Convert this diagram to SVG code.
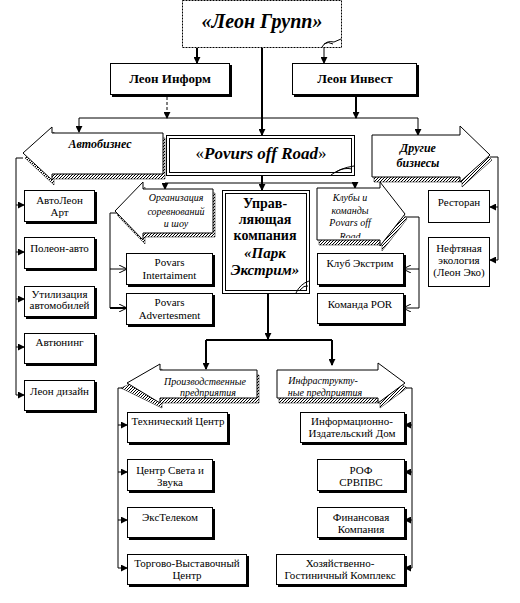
<svg xmlns="http://www.w3.org/2000/svg" width="520" height="603" viewBox="0 0 520 603">
<defs>
<pattern id="hatch" width="3" height="3" patternUnits="userSpaceOnUse">
<rect width="3" height="3" fill="#fff"/>
<path d="M0,0h1v1h-1z M2,1h1v1h-1z M1,2h1v1h-1z" fill="#000"/>
</pattern>
<marker id="ah" viewBox="0 0 8 8" refX="7" refY="4" markerWidth="7" markerHeight="7" markerUnits="userSpaceOnUse" orient="auto">
<path d="M0,0 L8,4 L0,8 z" fill="#000"/>
</marker>
<marker id="ao" viewBox="0 0 8 8" refX="7" refY="4" markerWidth="8" markerHeight="8" markerUnits="userSpaceOnUse" orient="auto">
<path d="M0,0 L8,4 L0,8" fill="none" stroke="#000" stroke-width="1"/>
</marker>
<clipPath id="clubClip"><rect x="317" y="186" width="70" height="52"/></clipPath>
</defs>
<style>
.box{fill:#fff;stroke:#000;stroke-width:1}
.sh{fill:#000}
.hs{fill:url(#hatch);stroke:#000;stroke-width:0.5}
.arw{fill:#fff;stroke:#000;stroke-width:1}
text{font-family:'Liberation Serif','DejaVu Serif','Noto Serif',serif;fill:#000;text-anchor:middle}
.t{font-size:11px}
.ti{font-size:10px;font-style:italic}
.tb{font-weight:bold}
.tbi{font-weight:bold;font-style:italic}
.c{fill:none;stroke:#000;stroke-width:1}
.c2{fill:none;stroke:#000;stroke-width:2}
</style>
<rect width="520" height="603" fill="#fff"/>

<g id="connectors">
<path class="c2" d="M197,48 V63" marker-end="url(#ah)"/>
<path class="c" d="M324,44 V63" marker-end="url(#ah)"/>
<path class="c2" d="M262,48 V135" marker-end="url(#ah)"/>
<path class="c" d="M167,97 V118" stroke-dasharray="3,2" marker-end="url(#ah)"/>
<path class="c2" d="M356,96 V118" marker-end="url(#ah)"/>
<path class="c" d="M79,118 H418"/>
<path class="c" d="M79,118 V132" marker-end="url(#ah)"/>
<path class="c" d="M418,118 V135" marker-end="url(#ah)"/>
<path class="c2" d="M262,175 V190" marker-end="url(#ah)"/>
<path class="c" d="M165,183 H355"/>
<path class="c" d="M165,183 V189" marker-end="url(#ah)"/>
<path class="c" d="M355,183 V188" marker-end="url(#ah)"/>
<path class="c" d="M23,158 H16 V395"/>
<path class="c" d="M16,205 H24" marker-end="url(#ah)"/>
<path class="c" d="M16,252 H24" marker-end="url(#ah)"/>
<path class="c" d="M16,299 H24" marker-end="url(#ah)"/>
<path class="c" d="M16,347 H24" marker-end="url(#ah)"/>
<path class="c" d="M16,395 H24" marker-end="url(#ah)"/>
<path class="c" d="M490,157 H498 V260"/>
<path class="c" d="M498,207 H490" marker-end="url(#ah)"/>
<path class="c" d="M498,260 H490" marker-end="url(#ah)"/>
<path class="c" d="M117,213 H110 V308"/>
<path class="c" d="M110,269 H126" marker-end="url(#ao)"/>
<path class="c2" d="M110,308 H126" marker-end="url(#ao)"/>
<path class="c" d="M405,217 H419 V308"/>
<path class="c" d="M419,269 H404" marker-end="url(#ao)"/>
<path class="c" d="M419,308 H404" marker-end="url(#ao)"/>
<path class="c2" d="M268,293 V339" marker-end="url(#ah)"/>
<path class="c2" d="M206,340 H332"/>
<path class="c2" d="M206,340 V369" marker-end="url(#ah)"/>
<path class="c2" d="M332,340 V365" marker-end="url(#ah)"/>
<path class="c" d="M127,388 H118 V568"/>
<path class="c" d="M118,425 H127" marker-end="url(#ah)"/>
<path class="c" d="M118,472 H127" marker-end="url(#ah)"/>
<path class="c" d="M118,520 H127" marker-end="url(#ah)"/>
<path class="c" d="M118,568 H127" marker-end="url(#ah)"/>
<path class="c" d="M405,388 H412 V568"/>
<path class="c" d="M412,425 H405" marker-end="url(#ah)"/>
<path class="c" d="M412,472 H405" marker-end="url(#ah)"/>
<path class="c" d="M412,520 H405" marker-end="url(#ah)"/>
<path class="c" d="M412,568 H405" marker-end="url(#ah)"/>
</g>

<g id="leon-grupp">
<rect x="182.5" y="0.5" width="159" height="47" fill="#fff" stroke="#000" stroke-width="1" stroke-dasharray="2,1"/>
<path d="M322,47 Q326,40 334,42 L341,39" fill="none" stroke="#000" stroke-width="1"/>
<path d="M324,44 Q328,41 333,44" fill="none" stroke="#000" stroke-width="1"/>
<text class="tbi" x="262" y="28" font-size="20">«Леон Групп»</text>
</g>

<g id="leon-inform">
<rect class="sh" x="112" y="65" width="120" height="32"/>
<rect class="box" x="110.5" y="63.5" width="119" height="31"/>
<text class="tb" x="170" y="83" font-size="13">Леон Информ</text>
</g>

<g id="leon-invest">
<rect class="sh" x="294" y="65" width="125" height="32"/>
<rect class="box" x="292.5" y="63.5" width="124" height="31"/>
<text class="tb" x="355" y="83" font-size="13">Леон Инвест</text>
</g>

<g id="avtobiznes">
<polygon class="hs" points="25,158 54,132 54,138 165,138 165,179 54,179 54,185"/>
<polygon class="arw" points="23,153 52,127 52,133 163,133 163,174 52,174 52,180"/>
<text class="tbi" x="100" y="148" font-size="12">Автобизнес</text>
</g>

<g id="povurs">
<rect class="box" x="166.5" y="135.5" width="188" height="40"/>
<rect class="box" x="169.5" y="138.5" width="182" height="34"/>
<path d="M331,175 Q340,168 354,166" fill="none" stroke="#000" stroke-width="1"/>
<path d="M336,172 Q344,167 352,169" fill="none" stroke="#000" stroke-width="1"/>
<text class="tbi" x="261" y="159" font-size="17"><tspan font-weight="normal" font-style="normal">«</tspan>Povurs off Road<tspan font-weight="normal" font-style="normal">»</tspan></text>
</g>

<g id="drugie">
<polygon class="hs" points="374,140 462,140 462,131 492,160 462,187 462,182 374,182"/>
<polygon class="arw" points="372,135 460,135 460,126 490,155 460,182 460,177 372,177"/>
<text class="tbi" x="418" y="152" font-size="12">Другие</text>
<text class="tbi" x="418" y="167" font-size="12">бизнесы</text>
</g>

<g id="avtoleon-art">
<rect class="sh" x="26" y="192" width="71" height="32"/>
<rect class="box" x="24.5" y="190.5" width="70" height="31"/>
<text class="t" x="59.5" y="204">АвтоЛеон</text>
<text class="t" x="59.5" y="216">Арт</text>
</g>
<g id="poleon-avto">
<rect class="sh" x="26" y="239" width="71" height="32"/>
<rect class="box" x="24.5" y="237.5" width="70" height="31"/>
<text class="t" x="59.5" y="252">Полеон-авто</text>
</g>
<g id="utilizaciya">
<rect class="sh" x="26" y="288" width="71" height="31"/>
<rect class="box" x="24.5" y="286.5" width="70" height="30"/>
<text class="t" x="59.5" y="298" font-size="10">Утилизация</text>
<text class="t" x="59.5" y="309" font-size="10">автомобилей</text>
</g>
<g id="avtyuning">
<rect class="sh" x="26" y="335" width="71" height="31"/>
<rect class="box" x="24.5" y="333.5" width="70" height="30"/>
<text class="t" x="59.5" y="346">Автюнинг</text>
</g>
<g id="leon-dizain">
<rect class="sh" x="26" y="382" width="71" height="31"/>
<rect class="box" x="24.5" y="380.5" width="70" height="30"/>
<text class="t" x="59.5" y="395">Леон дизайн</text>
</g>

<g id="organizaciya">
<polygon class="hs" points="117,215 145,187 145,193 215,193 215,237 145,237 145,244"/>
<polygon class="arw" points="115,211 143,182 143,189 213,189 213,233 143,233 143,240"/>
<text class="ti" x="176" y="201">Организация</text>
<text class="ti" x="176" y="215">соревнований</text>
<text class="ti" x="176" y="227">и шоу</text>
</g>

<g id="upravl">
<rect class="box" x="222.5" y="190.5" width="87" height="103"/>
<rect class="box" x="225.5" y="193.5" width="81" height="97"/>
<path d="M296,293 Q300,284 309,281" fill="none" stroke="#000" stroke-width="1"/>
<path d="M300,290 Q304,285 308,286" fill="none" stroke="#000" stroke-width="1"/>
<text class="tb" x="265" y="208" font-size="14">Управ-</text>
<text class="tb" x="265" y="224" font-size="14">ляющая</text>
<text class="tb" x="265" y="240" font-size="14">компания</text>
<text class="tbi" x="265" y="258" font-size="15">«Парк</text>
<text class="tbi" x="265" y="275" font-size="15">Экстрим»</text>
</g>

<g id="kluby">
<polygon class="hs" points="319,193 382,193 382,187 407,219 382,251 382,245 319,245"/>
<polygon class="arw" points="317,188 380,188 380,182 405,214 380,246 380,240 317,240"/>
<g clip-path="url(#clubClip)">
<text class="ti" x="350" y="201" font-size="9">Клубы и</text>
<text class="ti" x="350" y="214" font-size="9">команды</text>
<text class="ti" x="350" y="226" font-size="9">Povars off</text>
<text class="ti" x="350" y="240" font-size="9">Road</text>
</g>
</g>

<g id="restoran">
<rect class="box" x="428.5" y="190.5" width="61" height="32"/>
<text class="t" x="459" y="206">Ресторан</text>
</g>
<g id="neftyanaya">
<rect class="box" x="428.5" y="237.5" width="61" height="49"/>
<text class="t" x="459" y="252">Нефтяная</text>
<text class="t" x="459" y="264">экология</text>
<text class="t" x="459" y="276">(Леон Эко)</text>
</g>

<g id="povars-intertaiment">
<rect class="sh" x="128" y="255" width="87" height="32"/>
<rect class="box" x="126.5" y="253.5" width="86" height="31"/>
<text class="t" x="169.5" y="266">Povars</text>
<text class="t" x="169.5" y="279">Intertaiment</text>
</g>
<g id="povars-advertesment">
<rect class="sh" x="128" y="295" width="87" height="32"/>
<rect class="box" x="126.5" y="293.5" width="86" height="31"/>
<text class="t" x="169.5" y="306">Povars</text>
<text class="t" x="169.5" y="319">Advertesment</text>
</g>
<g id="klub-ekstrim">
<rect class="sh" x="319" y="255" width="87" height="32"/>
<rect class="box" x="317.5" y="253.5" width="86" height="31"/>
<text class="t" x="360" y="267">Клуб Экстрим</text>
</g>
<g id="komanda-por">
<rect class="sh" x="319" y="295" width="87" height="31"/>
<rect class="box" x="317.5" y="293.5" width="86" height="30"/>
<text class="t" x="360" y="308">Команда POR</text>
</g>

<g id="proizv">
<polygon class="hs" points="121,388 162,369 162,375 259,375 259,403 162,403 162,408"/>
<polygon class="arw" points="127,383 160,364 160,370 257,370 257,398 160,398 160,403"/>
<text class="ti" x="205" y="385">Производственные</text>
<text class="ti" x="208" y="396">предприятия</text>
</g>
<g id="infra">
<polygon class="hs" points="279,375 380,375 380,368 407,388 380,408 380,403 279,403"/>
<polygon class="arw" points="277,370 378,370 378,363 405,383 378,403 378,398 277,398"/>
<text class="ti" x="323" y="384">Инфраструкту-</text>
<text class="ti" x="325" y="396">ные предприятия</text>
</g>

<g id="tech-center">
<rect class="sh" x="129" y="414" width="101" height="31"/>
<rect class="box" x="127.5" y="412.5" width="100" height="30"/>
<text class="t" x="178" y="425">Технический Центр</text>
</g>
<g id="center-sveta">
<rect class="sh" x="129" y="461" width="86" height="32"/>
<rect class="box" x="127.5" y="459.5" width="85" height="31"/>
<text class="t" x="170" y="474">Центр Света и</text>
<text class="t" x="170" y="486">Звука</text>
</g>
<g id="extelecom">
<rect class="sh" x="129" y="509" width="86" height="31"/>
<rect class="box" x="127.5" y="507.5" width="85" height="30"/>
<text class="t" x="170" y="521">ЭксТелеком</text>
</g>
<g id="torgovo">
<rect class="sh" x="129" y="556" width="120" height="31"/>
<rect class="box" x="127.5" y="554.5" width="119" height="30"/>
<text class="t" x="187" y="567">Торгово-Выставочный</text>
<text class="t" x="187" y="579">Центр</text>
</g>
<g id="info-dom">
<rect class="sh" x="302" y="414" width="105" height="31"/>
<rect class="box" x="300.5" y="412.5" width="104" height="30"/>
<text class="t" x="352" y="425">Информационно-</text>
<text class="t" x="352" y="437">Издательский Дом</text>
</g>
<g id="rof">
<rect class="sh" x="319" y="461" width="88" height="32"/>
<rect class="box" x="317.5" y="459.5" width="87" height="31"/>
<text class="t" x="361" y="474">РОФ</text>
<text class="t" x="361" y="486">СРВПВС</text>
</g>
<g id="finansovaya">
<rect class="sh" x="319" y="509" width="88" height="31"/>
<rect class="box" x="317.5" y="507.5" width="87" height="30"/>
<text class="t" x="361" y="521">Финансовая</text>
<text class="t" x="361" y="533">Компания</text>
</g>
<g id="hoz">
<rect class="sh" x="278" y="556" width="129" height="31"/>
<rect class="box" x="276.5" y="554.5" width="128" height="30"/>
<text class="t" x="340" y="567">Хозяйственно-</text>
<text class="t" x="340" y="579">Гостиничный Комплекс</text>
</g>
</svg>
